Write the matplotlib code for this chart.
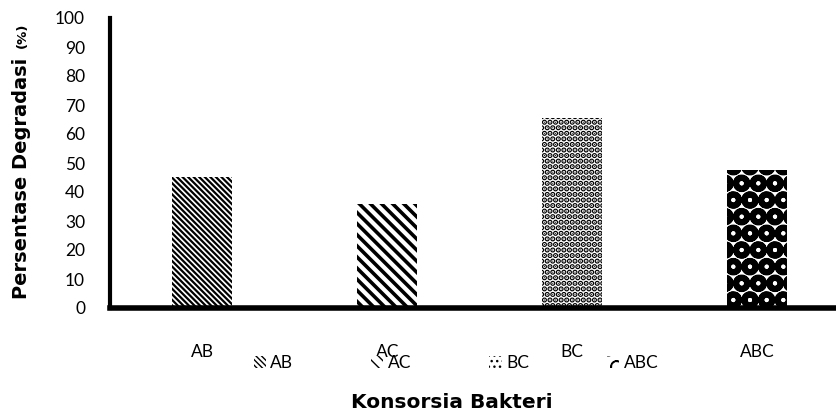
import matplotlib
matplotlib.use("Agg")
import matplotlib.pyplot as plt
import numpy as np

# data
categories = ["AB", "AC", "BC", "ABC"]
degradasi = [45.2, 35.8, 65.5, 47.5]
hatches = ["\\\\\\\\\\\\", "\\\\\\", "...", "O"]
hatch_lw = [1.6, 2.6, 2.8, 4.2]

plt.rcParams["font.family"] = ["Lato", "DejaVu Sans"]

fig = plt.figure(figsize=(8.36, 4.12), dpi=100)
ax = fig.add_axes([110 / 836, 1 - 308 / 412, 1 - 110 / 836, 290 / 412])

x = np.arange(len(categories))
bars = []
for i, (cat, val, h) in enumerate(zip(categories, degradasi, hatches)):
    b = ax.bar(x[i], val, width=0.325, color="white", edgecolor="black",
               linewidth=0, hatch=h, label=cat)
    for p in b:
        if hasattr(p, "set_hatch_linewidth"):
            p.set_hatch_linewidth(hatch_lw[i])
    bars.append(b)

ax.set_ylim(0, 100)
ax.set_yticks(np.arange(0, 101, 10))
ax.set_xlim(-0.5, -0.5 + (836 - 110.6) / 184.7)
ax.set_xticks(x)
ax.set_xticklabels(categories)
ax.tick_params(axis="both", length=0, labelsize=12.5, colors="black")
ax.tick_params(axis="x", pad=26)
ax.tick_params(axis="y", pad=18)

for s in ["top", "right"]:
    ax.spines[s].set_visible(False)
ax.spines["left"].set_linewidth(3)
ax.spines["bottom"].set_linewidth(4)

fig.legend(handles=[b[0] for b in bars], labels=categories, ncol=4,
           loc="center", bbox_to_anchor=(456 / 836, 1 - 363 / 412),
           frameon=False, fontsize=12.5, handlelength=0.7, handleheight=0.7,
           handletextpad=0.25, columnspacing=4.5)

fig.text(452 / 836, 1 - 402 / 412, "Konsorsia Bakteri", ha="center", va="center",
         fontsize=14.5, fontweight="bold", family="DejaVu Sans")
fig.text(22 / 836, 1 - 178 / 412, "Persentase Degradasi", ha="center", va="center",
         rotation=90, fontsize=14, fontweight="bold", family="DejaVu Sans")
fig.text(22 / 836, 1 - 35 / 412, "(%)", ha="center", va="center",
         rotation=90, fontsize=9.5, fontweight="bold", family="DejaVu Sans")

fig.savefig("out.png", dpi=100)
